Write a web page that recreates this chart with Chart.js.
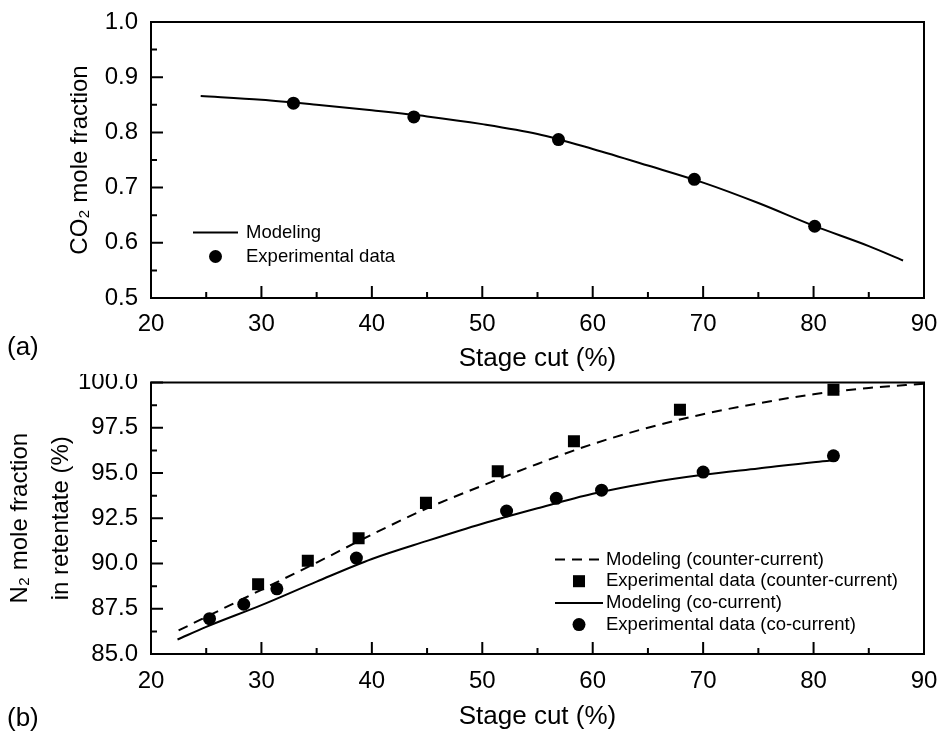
<!DOCTYPE html>
<html>
<head>
<meta charset="utf-8">
<script src="https://cdn.jsdelivr.net/npm/chart.js@4.4.1/dist/chart.umd.min.js"></script>
<style>
  html, body { margin: 0; padding: 0; background: #fff; }
  #wrap { position: relative; width: 940px; height: 732px; overflow: hidden; }
  canvas { position: absolute; left: 0; }
  #chartA { top: 0; }
  #chartB { top: 374px; }
  .tag { position: absolute; left: 7px; font: 26px/26px "Liberation Sans", Arial, sans-serif; color: #000; }
</style>
</head>
<body>
<div id="wrap">
  <canvas id="chartA" width="940" height="374"></canvas>
  <canvas id="chartB" width="940" height="358"></canvas>
  <div class="tag" style="top:333px">(a)</div>
  <div class="tag" style="top:704px">(b)</div>
</div>
<script>
// --- (a) CO2 mole fraction vs stage cut ---
const cutExpA = [32.9, 43.8, 56.9, 69.2, 80.1];
const co2Exp = [0.853, 0.828, 0.787, 0.715, 0.630];
const cutModelA = [24.5, 30, 35, 40, 45, 50, 55, 60, 65, 70, 75, 80, 85, 88.1];
const co2Model = [0.866, 0.859, 0.850, 0.840, 0.829, 0.815, 0.797, 0.770, 0.740, 0.709, 0.672, 0.631, 0.594, 0.568];

// --- (b) N2 mole fraction in retentate vs stage cut ---
const cutExpCounter = [29.7, 34.2, 38.8, 44.9, 51.4, 58.3, 67.9, 81.8];
const n2ExpCounter = [88.85, 90.15, 91.4, 93.35, 95.1, 96.75, 98.5, 99.6];
const cutExpCo = [25.3, 28.4, 31.4, 38.6, 52.2, 56.7, 60.8, 70.0, 81.8];
const n2ExpCo = [86.95, 87.75, 88.6, 90.3, 92.9, 93.6, 94.05, 95.05, 95.95];
const cutModelCounter = [22.5, 25, 30, 35, 40, 45, 50, 55, 60, 65, 70, 75, 80, 85, 90];
const n2ModelCounter = [86.3, 87.05, 88.55, 90.05, 91.6, 93.05, 94.3, 95.5, 96.6, 97.5, 98.25, 98.85, 99.35, 99.7, 99.93];
const cutModelCo = [22.4, 25, 30, 35, 40, 45, 50, 55, 60, 65, 70, 75, 80, 81.8];
const n2ModelCo = [85.8, 86.5, 87.7, 89.0, 90.25, 91.25, 92.2, 93.05, 93.85, 94.45, 94.9, 95.25, 95.6, 95.7];

const xTicks = [20, 30, 40, 50, 60, 70, 80, 90];
const yTicksA = [0.5, 0.6, 0.7, 0.8, 0.9, 1.0];
const yTicksB = [85.0, 87.5, 90.0, 92.5, 95.0, 97.5, 100.0];

const FONT = '"Liberation Sans", Arial, sans-serif';
Chart.defaults.font.family = FONT;
Chart.defaults.color = '#000';

const pts = (xs, ys) => xs.map((x, i) => ({ x, y: ys[i] }));

// frame + inward major/minor ticks
const frameTicks = {
  id: 'frameTicks',
  afterDatasetsDraw(chart) {
    const { ctx, chartArea: a, scales: { x, y } } = chart;
    ctx.save();
    ctx.strokeStyle = '#000';
    ctx.lineWidth = 2;
    ctx.beginPath();
    const xv = x.ticks.map(t => t.value);
    xv.forEach((v, i) => {
      const p = x.getPixelForValue(v);
      ctx.moveTo(p, a.bottom); ctx.lineTo(p, a.bottom - 12);
      if (i < xv.length - 1) {
        const m = x.getPixelForValue((v + xv[i + 1]) / 2);
        ctx.moveTo(m, a.bottom); ctx.lineTo(m, a.bottom - 6);
      }
    });
    const yv = y.ticks.map(t => t.value);
    yv.forEach((v, i) => {
      const p = y.getPixelForValue(v);
      ctx.moveTo(a.left, p); ctx.lineTo(a.left + 12, p);
      if (i < yv.length - 1) {
        const m = y.getPixelForValue((v + yv[i + 1]) / 2);
        ctx.moveTo(a.left, m); ctx.lineTo(a.left + 6, m);
      }
    });
    ctx.stroke();
    ctx.strokeRect(a.left, a.top, a.right - a.left, a.bottom - a.top);
    ctx.restore();
  }
};

// legend drawn inside the plot area
const insideLegend = {
  id: 'insideLegend',
  afterDraw(chart, args, opts) {
    const { ctx, chartArea: a } = chart;
    ctx.save();
    ctx.font = opts.size + 'px ' + FONT;
    ctx.fillStyle = '#000';
    ctx.textBaseline = 'middle';
    chart.data.datasets.forEach((ds, i) => {
      const yy = a.top + opts.top + i * opts.gap;
      const x0 = a.left + opts.left;
      const cx = x0 + opts.len / 2;
      if (ds.showLine) {
        ctx.strokeStyle = ds.borderColor;
        ctx.lineWidth = ds.borderWidth;
        ctx.setLineDash(ds.borderDash || []);
        ctx.beginPath(); ctx.moveTo(x0, yy); ctx.lineTo(x0 + opts.len, yy); ctx.stroke();
        ctx.setLineDash([]);
      } else if (ds.pointStyle === 'rect') {
        const h = ds.pointRadius / Math.SQRT2;
        ctx.fillRect(cx - h, yy - h, 2 * h, 2 * h);
      } else {
        ctx.beginPath(); ctx.arc(cx, yy, ds.pointRadius, 0, Math.PI * 2); ctx.fill();
      }
      ctx.fillText(ds.label, x0 + opts.len + opts.textGap, yy);
    });
    ctx.restore();
  }
};

function modelSet(label, data, dash) {
  return { label, data, showLine: true, borderColor: '#000', borderWidth: 2, borderDash: dash,
           pointRadius: 0, cubicInterpolationMode: 'monotone' };
}
function expSet(label, data, style, r) {
  return { label, data, showLine: false, pointStyle: style, pointRadius: r, pointHoverRadius: r,
           backgroundColor: '#000', borderColor: '#000', borderWidth: 0 };
}

function xAxis(height, pad) {
  return {
    type: 'linear', min: 20, max: 90,
    afterBuildTicks: s => { s.ticks = xTicks.map(v => ({ value: v })); },
    afterFit: s => { s.height = height; s.paddingLeft = 0; s.paddingRight = 0; },
    grid: { display: false, drawTicks: false },
    border: { display: false },
    ticks: { padding: pad, maxRotation: 0, autoSkip: false, font: { size: 24 } },
    title: { display: true, text: 'Stage cut (%)', font: { size: 26 }, padding: { top: 0, bottom: 0 } }
  };
}
function yAxis(min, max, ticks, title, titleFont, titlePad) {
  return {
    type: 'linear', min, max,
    afterBuildTicks: s => { s.ticks = ticks.map(v => ({ value: v })); },
    afterFit: s => { s.width = 151; s.paddingTop = 0; s.paddingBottom = 0; },
    grid: { display: false, drawTicks: false },
    border: { display: false },
    ticks: { padding: 13, autoSkip: false, font: { size: 24 }, callback: v => v.toFixed(1) },
    title: { display: true, text: title, font: titleFont, padding: { top: titlePad, bottom: 0 } }
  };
}

new Chart(document.getElementById('chartA'), {
  type: 'scatter',
  data: {
    datasets: [
      modelSet('Modeling', pts(cutModelA, co2Model), []),
      expSet('Experimental data', pts(cutExpA, co2Exp), 'circle', 6.5)
    ]
  },
  options: {
    responsive: false, animation: false,
    layout: { padding: { left: 0, top: 22, right: 16, bottom: 0 } },
    scales: {
      x: xAxis(76, 12),
      y: yAxis(0.5, 1.0, yTicksA, 'CO\u2082 mole fraction', { size: 24 }, 66)
    },
    plugins: {
      legend: { display: false }, tooltip: { enabled: false },
      insideLegend: { top: 210.5, left: 42, len: 45, textGap: 8, gap: 24, size: 18.5 }
    }
  },
  plugins: [frameTicks, insideLegend]
});

new Chart(document.getElementById('chartB'), {
  type: 'scatter',
  data: {
    datasets: [
      modelSet('Modeling (counter-current)', pts(cutModelCounter, n2ModelCounter), [10, 7]),
      expSet('Experimental data (counter-current)', pts(cutExpCounter, n2ExpCounter), 'rect', 8.5),
      modelSet('Modeling (co-current)', pts(cutModelCo, n2ModelCo), []),
      expSet('Experimental data (co-current)', pts(cutExpCo, n2ExpCo), 'circle', 6.5)
    ]
  },
  options: {
    responsive: false, animation: false,
    layout: { padding: { left: 0, top: 4, right: 16, bottom: 0 } },
    scales: {
      x: xAxis(78, 13),
      y: yAxis(85, 100, yTicksB, ['N\u2082 mole fraction', 'in retentate (%)'], { size: 24, lineHeight: 1.71 }, 0)
    },
    plugins: {
      legend: { display: false }, tooltip: { enabled: false },
      insideLegend: { top: 177, left: 404, len: 48, textGap: 3, gap: 21.7, size: 18.5 }
    }
  },
  plugins: [frameTicks, insideLegend]
});
</script>
</body>
</html>
